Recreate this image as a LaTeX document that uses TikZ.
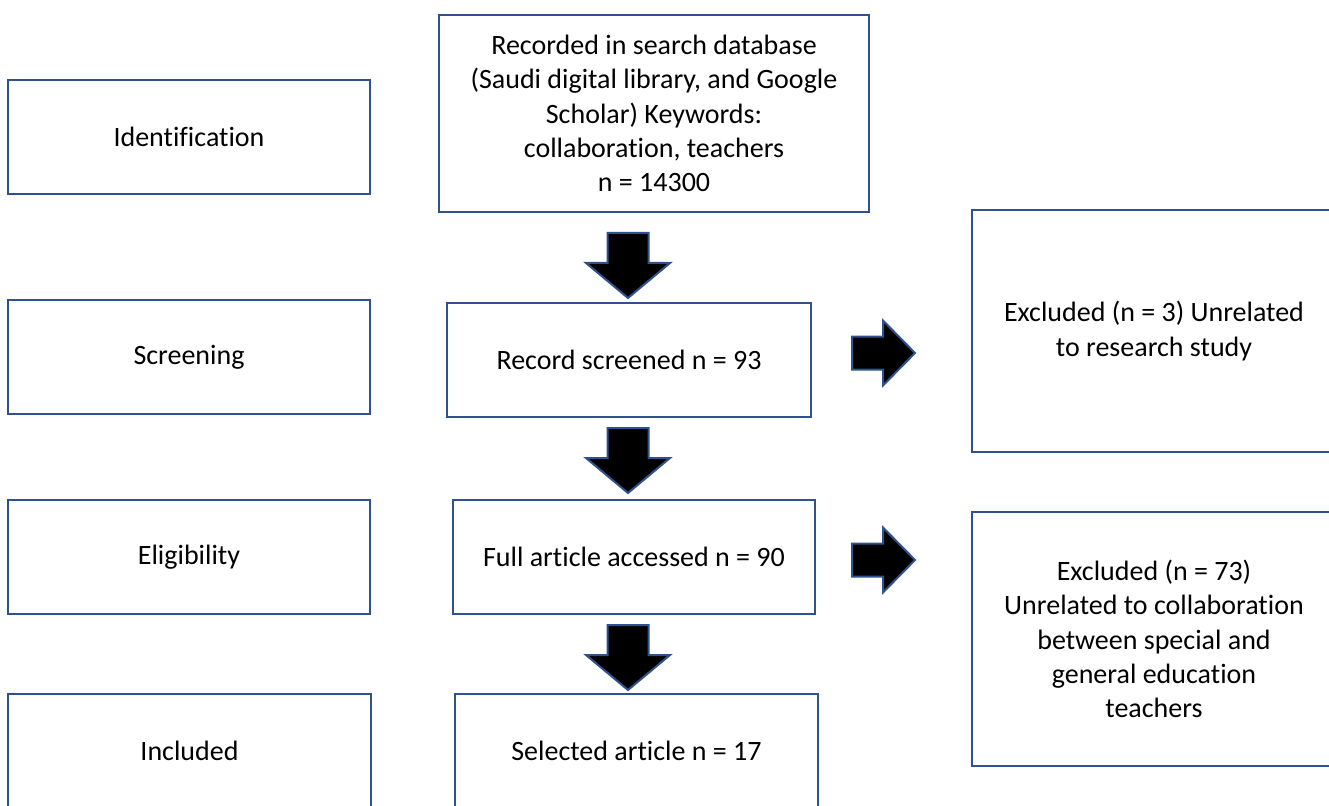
\documentclass[tikz,border=0pt]{standalone}
\usepackage{fontspec}
\setmainfont{Carlito}[Ligatures=NoCommon]
\definecolor{boxblue}{HTML}{2F528F}
\begin{document}
\begin{tikzpicture}[x=0.75pt,y=-0.75pt,
  box/.style={draw=boxblue,line width=1.5pt,fill=white,align=center,inner sep=2pt,
    font=\fontsize{21}{25.8}\selectfont,text=black},
  blockarrow/.style={draw=boxblue,line width=1.5pt,fill=black,line join=miter},
  downarrow/.pic={\path[blockarrow] (-20.5,0) -- (20.5,0) -- (20.5,30) -- (42,30) -- (0,65) -- (-42,30) -- (-20.5,30) -- cycle;},
  rightarrow/.pic={\path[blockarrow] (0,-16.5) -- (31,-16.5) -- (31,-32.5) -- (63,0) -- (31,32.5) -- (31,16.5) -- (0,16.5) -- cycle;}
]
\useasboundingbox (0,0) rectangle (1329,806);
\node[box,minimum width=362*0.75pt,minimum height=114*0.75pt] (ident) at (189,137) {Identification};
\node[box,minimum width=430*0.75pt,minimum height=197*0.75pt] (rec) at (654,113.5) {Recorded in search database\\(Saudi digital library, and Google\\Scholar) Keywords:\\collaboration, teachers\\n = 14300};
\node[box,minimum width=362*0.75pt,minimum height=114*0.75pt] (scr) at (189,357) {Screening};
\node[box,minimum width=364*0.75pt,minimum height=114*0.75pt] (recscr) at (629,360) {Record screened n = 93};
\node[box,minimum width=364*0.75pt,minimum height=242*0.75pt] (exc1) at (1154,331) {Excluded (n = 3) Unrelated\\to research study};
\node[box,minimum width=362*0.75pt,minimum height=114*0.75pt] (elig) at (189,557) {Eligibility};
\node[box,minimum width=362*0.75pt,minimum height=114*0.75pt] (full) at (634,557) {Full article accessed n = 90};
\node[box,minimum width=364*0.75pt,minimum height=254*0.75pt] (exc2) at (1154,639) {Excluded (n = 73)\\Unrelated to collaboration\\between special and\\general education\\teachers};
\node[box,minimum width=363*0.75pt,minimum height=114*0.75pt] (incl) at (189.5,751) {Included};
\node[box,minimum width=363*0.75pt,minimum height=114*0.75pt] (sel) at (636.5,751) {Selected article n = 17};
\pic at (628,233) {downarrow};
\pic at (628,428) {downarrow};
\pic at (628,625) {downarrow};
\pic at (852,353) {rightarrow};
\pic at (852,560) {rightarrow};
\end{tikzpicture}
\end{document}
